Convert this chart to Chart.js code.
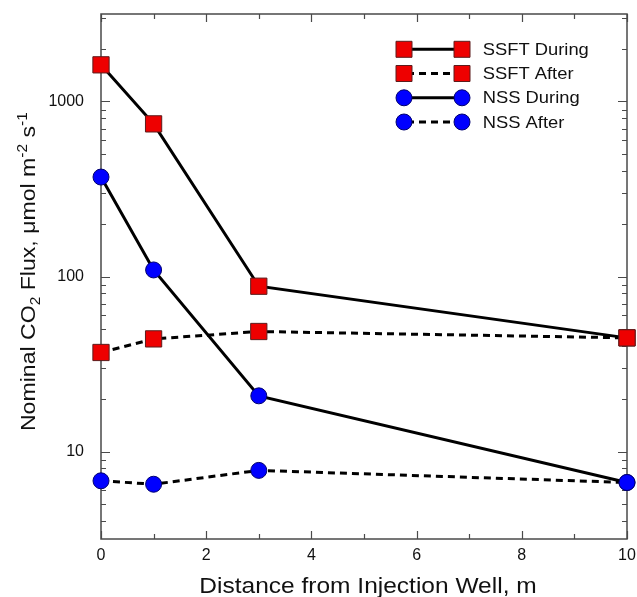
<!DOCTYPE html>
<html>
<head>
<meta charset="utf-8">
<script src="https://cdn.jsdelivr.net/npm/chart.js@4"></script>
<style>
  html, body { margin: 0; padding: 0; background: #fff; }
  #wrap { width: 637px; height: 597px; }
</style>
</head>
<body>
<div id="wrap"><canvas id="fluxChart" width="637" height="597"></canvas></div>
<script>
// values
const distance = [0, 1, 3, 10];
const ssftDuring = [1620, 745, 88, 44.6];
const ssftAfter = [36.8, 44, 48.5, 44.6];
const nssDuring = [370, 109, 20.8, 6.65];
const nssAfter = [6.8, 6.5, 7.8, 6.65];

const xTicks = [0, 1, 2, 3, 4, 5, 6, 7, 8, 9, 10];
const yTicks = [4, 5, 6, 7, 8, 9, 10, 20, 30, 40, 50, 60, 70, 80, 90,
  100, 200, 300, 400, 500, 600, 700, 800, 900, 1000, 2000, 3000];
const yLabelled = [10, 100, 1000];

const seriesNames = ["SSFT During", "SSFT After", "NSS During", "NSS After"];

const RED = "#ee0000";
const RED_EDGE = "#5c1c1c";
const BLUE = "#0000ff";
const BLUE_EDGE = "#00006e";
const AXIS = "#4a4a4a";
const FONT = "'Liberation Sans', Arial, sans-serif";
const DASH = [7, 5];

const pts = (ys) => distance.map((d, i) => ({ x: d, y: ys[i] }));

function series(label, ys, isSquare, dashed) {
  return {
    label: label,
    data: pts(ys),
    borderColor: "#000",
    borderWidth: 3,
    borderDash: dashed ? DASH : [],
    tension: 0,
    fill: false,
    clip: false,
    pointStyle: isSquare ? "rect" : "circle",
    pointRadius: isSquare ? 11.5 : 8,
    pointBackgroundColor: isSquare ? RED : BLUE,
    pointBorderColor: isSquare ? RED_EDGE : BLUE_EDGE,
    pointBorderWidth: 1,
  };
}

function stretchText(ctx, text, x, y, sx) {
  ctx.save();
  ctx.translate(x, y);
  ctx.scale(sx, 1);
  ctx.fillText(text, 0, 0);
  ctx.restore();
}

// frame and inward ticks on all four sides
const framePlugin = {
  id: "frame",
  beforeDatasetsDraw(chart) {
    const { ctx, chartArea: a, scales } = chart;
    ctx.save();
    ctx.strokeStyle = AXIS;
    ctx.lineWidth = 1.5;
    ctx.strokeRect(a.left, a.top, a.right - a.left, a.bottom - a.top);
    ctx.beginPath();
    yTicks.forEach((v) => {
      const y = Math.round(scales.y.getPixelForValue(v)) + 0.5;
      const len = yLabelled.includes(v) ? 9 : 5;
      ctx.moveTo(a.left, y); ctx.lineTo(a.left + len, y);
      ctx.moveTo(a.right, y); ctx.lineTo(a.right - len, y);
    });
    xTicks.forEach((v) => {
      const x = Math.round(scales.x.getPixelForValue(v)) + 0.5;
      const len = v % 2 === 0 ? 8 : 5;
      ctx.moveTo(x, a.bottom); ctx.lineTo(x, a.bottom - len);
      ctx.moveTo(x, a.top); ctx.lineTo(x, a.top + len);
    });
    ctx.lineWidth = 1.2;
    ctx.stroke();
    ctx.restore();
  },
  afterDraw(chart) {
    const { ctx } = chart;
    ctx.save();
    ctx.fillStyle = "#111";

    // x title
    ctx.font = "21.5px " + FONT;
    ctx.textBaseline = "alphabetic";
    const xt = "Distance from Injection Well, m";
    const sx = 1.14;
    const w = ctx.measureText(xt).width * sx;
    stretchText(ctx, xt, 368 - w / 2, 592.5, sx);

    // y title with sub/superscripts
    const parts = [
      { t: "Nominal CO", s: 21, dy: 0 },
      { t: "2", s: 14, dy: 5 },
      { t: " Flux, \u03bcmol m", s: 21, dy: 0 },
      { t: "-2", s: 14, dy: -8 },
      { t: " s", s: 21, dy: 0 },
      { t: "-1", s: 14, dy: -8 },
    ];
    let total = 0;
    parts.forEach((p) => {
      ctx.font = p.s + "px " + FONT;
      p.w = ctx.measureText(p.t).width;
      total += p.w;
    });
    ctx.save();
    ctx.translate(35, 271.7);
    ctx.rotate(-Math.PI / 2);
    ctx.scale(1.1, 1);
    let cx = -total / 2;
    parts.forEach((p) => {
      ctx.font = p.s + "px " + FONT;
      ctx.fillText(p.t, cx, p.dy);
      cx += p.w;
    });
    ctx.restore();

    // legend: marker, line, marker, label
    const rows = [49.3, 73.5, 97.8, 122];
    chart.data.datasets.forEach((ds, i) => {
      const y = rows[i];
      const x1 = 404, x2 = 462;
      ctx.strokeStyle = "#000";
      ctx.lineWidth = 3;
      ctx.setLineDash(ds.borderDash);
      ctx.lineDashOffset = -3;
      ctx.beginPath();
      ctx.moveTo(x1, y); ctx.lineTo(x2, y);
      ctx.stroke();
      ctx.setLineDash([]);
      ctx.fillStyle = ds.pointBackgroundColor;
      ctx.strokeStyle = ds.pointBorderColor;
      ctx.lineWidth = 1;
      [x1, x2].forEach((mx) => {
        ctx.beginPath();
        if (ds.pointStyle === "rect") {
          ctx.rect(mx - 8, y - 8, 16, 16);
        } else {
          ctx.arc(mx, y, 8, 0, Math.PI * 2);
        }
        ctx.fill();
        ctx.stroke();
      });
      ctx.fillStyle = "#111";
      ctx.font = "17px " + FONT;
      ctx.textBaseline = "middle";
      stretchText(ctx, ds.label, 482.7, y + 1, 1.08);
    });
    ctx.restore();
  },
};

const ctx = document.getElementById("fluxChart").getContext("2d");

new Chart(ctx, {
  type: "line",
  data: {
    datasets: [
      series(seriesNames[0], ssftDuring, true, false),
      series(seriesNames[1], ssftAfter, true, true),
      series(seriesNames[2], nssDuring, false, false),
      series(seriesNames[3], nssAfter, false, true),
    ],
  },
  options: {
    responsive: false,
    animation: false,
    events: [],
    layout: {
      autoPadding: false,
      padding: { left: 0, top: 14, right: 10, bottom: 0 },
    },
    plugins: {
      legend: { display: false },
      tooltip: { enabled: false },
    },
    scales: {
      x: {
        type: "linear",
        min: 0,
        max: 10,
        grid: { display: false, drawTicks: false },
        border: { display: false },
        ticks: {
          stepSize: 2,
          padding: 7,
          color: "#111",
          font: { family: FONT, size: 16 },
        },
        afterFit(scale) {
          scale.height = 58;
          scale.paddingLeft = 0;
          scale.paddingRight = 0;
        },
      },
      y: {
        type: "logarithmic",
        min: Math.sqrt(10),
        max: 1000 * Math.sqrt(10),
        grid: { display: false, drawTicks: false },
        border: { display: false },
        afterBuildTicks(scale) {
          scale.ticks = yLabelled.map((v) => ({ value: v }));
        },
        ticks: {
          autoSkip: false,
          padding: 17,
          color: "#111",
          font: { family: FONT, size: 16 },
          callback: (v) => String(v),
        },
        afterFit(scale) {
          scale.width = 101;
          scale.paddingTop = 0;
          scale.paddingBottom = 0;
        },
      },
    },
  },
  plugins: [framePlugin],
});
</script>
</body>
</html>
